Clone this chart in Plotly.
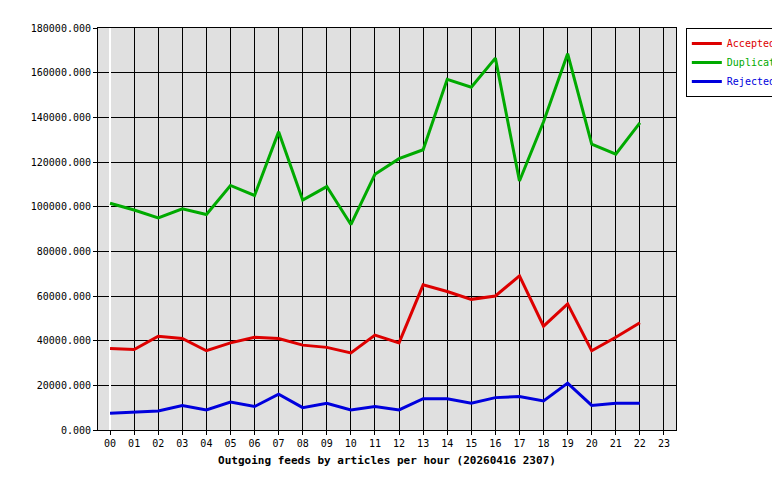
import plotly.graph_objects as go

hours = [f"{h:02d}" for h in range(24)]
accepted = [36500, 36000, 42000, 41000, 35500, 39000, 41500, 41000, 38000, 37000, 34500, 42500,
            39000, 65000, 62000, 58500, 60000, 69000, 46500, 56500, 35500, 41500, 48000]
duplicates = [101500, 98500, 95000, 99000, 96500, 109500, 105000, 133500, 103000, 109000, 92000, 114500,
              121500, 125500, 157000, 153500, 166500, 111500, 138000, 168500, 128000, 123500, 137500]
rejected = [7500, 8000, 8500, 11000, 9000, 12500, 10500, 16000, 10000, 12000, 9000, 10500,
            9000, 14000, 14000, 12000, 14500, 15000, 13000, 21000, 11000, 12000, 12000]

font = "DejaVu Sans Mono"
fig = go.Figure()
for name, vals, col in [("Accepted", accepted, "#dd0000"),
                        ("Duplicates", duplicates, "#00aa00"),
                        ("Rejected", rejected, "#0000dd")]:
    fig.add_trace(go.Scatter(x=list(range(len(vals))), y=vals,
                             name=f"<span style='color:{col}'>{name}</span>", mode="lines",
                             line=dict(color=col, width=3)))

fig.update_layout(
    width=780, height=480, paper_bgcolor="white", plot_bgcolor="#e0e0e0",
    margin=dict(l=90, r=112, t=20, b=58, autoexpand=False),
    font=dict(family=font, size=10, color="black"),
    legend=dict(x=1.017, y=1, xanchor="left", yanchor="top", bordercolor="black", borderwidth=1,
                font=dict(size=10), itemwidth=30, tracegroupgap=0),
    xaxis=dict(range=[-0.5, 23.5], tickvals=list(range(24)), ticktext=hours,
               showgrid=True, gridcolor="black", gridwidth=1, ticks="outside", ticklen=4,
               tickcolor="black", showline=True, linecolor="black", mirror=True,
               title=dict(text="<b>Outgoing feeds by articles per hour (20260416 2307)</b>",
                          standoff=8, font=dict(size=11))),
    yaxis=dict(range=[0, 180000], dtick=20000, tickformat=".3f", showgrid=True, gridcolor="black",
               ticks="outside", ticklen=4, tickcolor="black", showline=True, linecolor="black",
               mirror=True, zeroline=False),
)
fig.write_html("out.html")
